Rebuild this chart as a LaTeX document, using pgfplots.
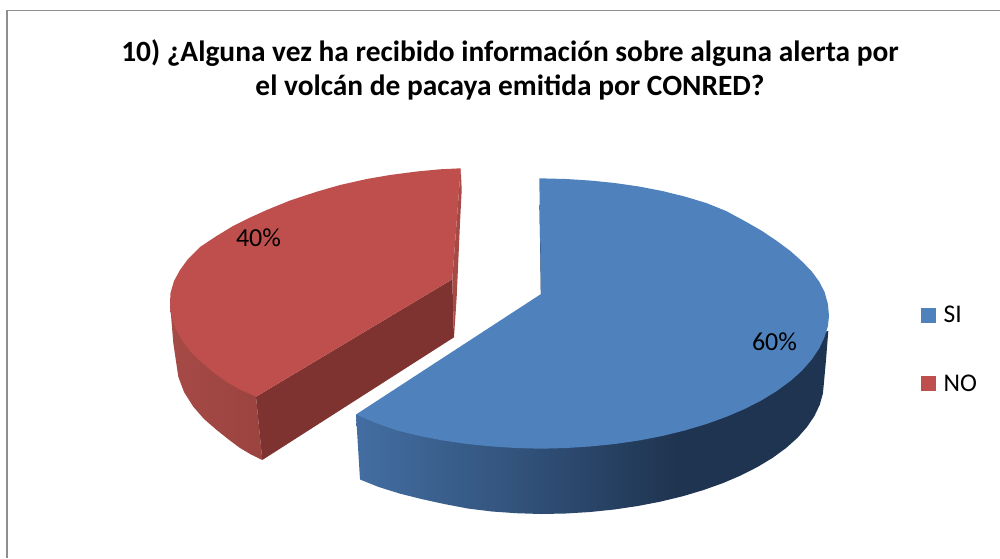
\documentclass[border=0pt]{standalone}
\usepackage{fontspec}
\setmainfont{Carlito}
\usepackage{pgfplots}
\pgfplotsset{compat=1.18}
\definecolor{sib}{HTML}{4F81BD}
\definecolor{nor}{HTML}{BE4F4C}
\definecolor{nodark}{HTML}{7F3331}
\definecolor{nomid}{HTML}{A64A46}
\definecolor{sidark}{HTML}{1F3450}
\definecolor{framec}{HTML}{8E8E8E}
\pgfdeclarehorizontalshading{sirim}{100bp}{
  color(0bp)=(sib!75!sidark!85!white);
  color(25bp)=(sib!75!sidark!100);
  color(42bp)=(sib!40!sidark);
  color(59bp)=(sidark);
  color(100bp)=(sidark)}
\pgfdeclarehorizontalshading{norim}{100bp}{
  color(0bp)=(nomid);
  color(25bp)=(nomid);
  color(75bp)=(nodark!40!nomid);
  color(100bp)=(nodark!40!nomid)}
\begin{document}
\begin{tikzpicture}[x=1pt,y=1pt]
\path[use as bounding box] (0,0) rectangle (1000,558);
\begin{axis}[
  at={(0,0)},anchor=south west,
  scale only axis,width=1000pt,height=558pt,
  xmin=0,xmax=1000,ymin=0,ymax=558,y dir=reverse,
  hide axis,
  legend style={at={(axis cs:921,349.5)},anchor=west,draw=none,fill=none,
    font=\fontsize{25.5}{28}\selectfont,row sep=46.5pt,inner sep=0pt,outer sep=0pt,
    /tikz/every odd column/.append style={column sep=5.5pt}},
  legend cell align=left,
  legend image code/.code={\fill[#1] (0pt,-7.6pt) rectangle (15.2pt,7.6pt);},
]
% frame
\addplot[forget plot,framec,line width=1.6pt] coordinates {(7,558) (7,10.5) (1000,10.5)};

% NO: rim and faces
\addplot[forget plot,draw=none,shading=norim] coordinates {
(170,303) (173.3,343) (178.3,376.7) (184,392) (193.3,406.7) (204,419) (216.7,430) (228,439) (240,448) (251,454.5) (262.3,460) (256,396.7) (300,350)} -- cycle;
\addplot[forget plot,draw=none,fill=nodark] coordinates {
(256,396.7) (452.3,279.3) (454,337.3) (262.3,460)} -- cycle;
\addplot[forget plot,draw=none,fill=nomid] coordinates {
(460.7,168.3) (461.7,190) (460,223) (456.7,296.7) (454,337.3) (452.3,279.3)} -- cycle;

% SI: rim
\addplot[forget plot,draw=none,shading=sirim] coordinates {
(356,414.5) (360,479.5) (378.7,487) (399.5,493.5) (421.4,499) (444.2,504) (467.8,508.5) (491.9,511.5) (516.3,513.2) (541,514) (565.7,513.5) (590.1,512) (614.2,509.5) (637.8,506) (660.6,501.6) (682.5,496.3) (703.3,490.1) (722.9,483.1) (741.1,475.3) (757.8,466.8) (772.8,457.7) (786.1,448) (797.5,437.8) (806.9,427.1) (814.3,416.2) (819.7,404.9) (822.9,393.5) (824,382) (826,360) (828.3,331) (541,380)} -- cycle;
\addplot[forget plot,draw=sidark,line width=0.8pt] coordinates {(539.8,205) (540.6,250) (541.2,294)};

% top surfaces
\addplot[draw=none,fill=sib] coordinates {
(539.3,178.3) (566.1,179) (591,180.6) (615.5,183.1) (639.5,186.6) (662.7,191.1) (685,196.6) (706.2,203) (726.1,211) (744.6,221) (761.6,230.7) (776.9,241) (790.4,251) (802,261.4) (811.6,271.3) (819.2,281.6) (824.6,292.1) (827.9,304) (829,316) (827.9,326) (824.6,336.9) (819.2,348.4) (811.6,359.7) (802,370.6) (790.4,381) (776.9,390.9) (761.6,400.3) (744.6,409) (726.1,416.9) (706.2,424.1) (685,430.4) (662.7,435.9) (639.5,440.4) (615.5,443.9) (591,446.4) (566.1,448) (541,448.7) (515.9,448) (491,446.4) (466.5,443.9) (442.5,440.4) (419.3,435.9) (397,430.4) (375.8,423) (356,414.5) (541,294)} -- cycle;
\addlegendentry{SI}
\addplot[draw=none,fill=nor] coordinates {
(460.7,168.3) (440,169.3) (416.7,171.5) (390,175) (366.7,179) (340,185) (316.7,191.7) (290,200.5) (266.7,210) (248,218.5) (233,226) (215,237) (200,247) (188,259) (180,270) (174,281) (170.5,293) (170,303) (170.7,313) (175,327) (181.7,340) (190,351) (200,361) (213,372) (226.7,382) (241,390) (256,396.7) (452.3,279.3)} -- cycle;
\addlegendentry{NO}

\node[font=\fontsize{26}{28}\selectfont] at (axis cs:258.5,238) {40\%};
\node[font=\fontsize{26}{28}\selectfont] at (axis cs:774.5,342) {60\%};
\node[font=\bfseries\fontsize{29.4}{34.5}\selectfont,align=center,inner sep=0pt] at (axis cs:510,70)
  {10) ¿Alguna vez ha recibido información sobre alguna alerta por\\el volcán de pacaya emitida por CONRED?};
\end{axis}
\end{tikzpicture}
\end{document}
